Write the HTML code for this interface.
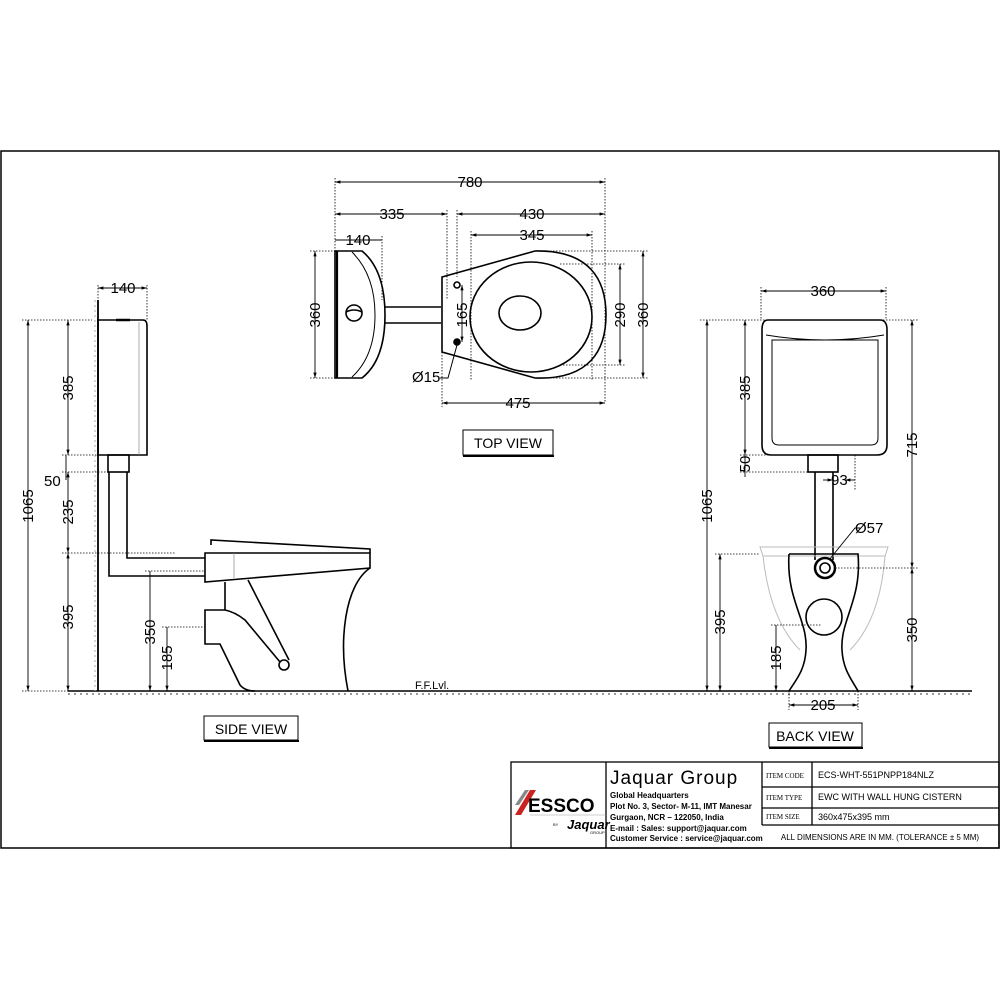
<!DOCTYPE html>
<html><head><meta charset="utf-8"><style>
html,body{margin:0;padding:0;background:#fff}
svg{display:block}
text{font-family:"Liberation Sans",sans-serif;fill:#000}
</style></head><body>
<svg width="1000" height="1000" viewBox="0 0 1000 1000" xmlns="http://www.w3.org/2000/svg">
<defs>
<marker id="a" viewBox="0 0 10 10" refX="10" refY="5" markerWidth="6" markerHeight="6" orient="auto-start-reverse"><path d="M0,2 L10,5 L0,8z" fill="#000"/></marker>
</defs>
<rect x="1" y="151" width="998" height="697" fill="none" stroke="#000" stroke-width="1.5"/>
<line x1="68" y1="691" x2="972" y2="691" stroke="#000" stroke-width="1.5"/>
<line x1="68" y1="694" x2="972" y2="694" stroke="#999" stroke-width="2" stroke-dasharray="2,4"/>
<g fill="none" stroke="#000" stroke-width="1.6">
<line x1="98" y1="300" x2="98" y2="691" stroke-width="1.8"/>
<line x1="95" y1="300" x2="95" y2="691" stroke="#aaa" stroke-width="1" stroke-dasharray="2,3"/>
<path d="M98,320 H143 Q147,320 147,326 V455 H98 Z"/>
<line x1="139" y1="322" x2="139" y2="455" stroke="#888" stroke-width="0.7"/>
<line x1="116" y1="320" x2="130" y2="320" stroke-width="2.5"/>
<rect x="108" y="455" width="21" height="17"/>
<path d="M109,472 V576 H205 M127,472 V558 H205"/>
<path d="M211,545 V540 L370,549 V553"/>
<path d="M205,553 H370 V568 L205,582 Z"/>
<line x1="234" y1="553" x2="234" y2="578" stroke="#888" stroke-width="0.7"/>
<path d="M370,568 C345,585 338,640 348,691"/>
<path d="M225,582 V610 M248,580 L289,660"/>
<path d="M225,610 H205 V644 H220 L240,685 Q245,691 255,691"/>
<path d="M225,610 Q235,612 245,620 L280,662"/>
<circle cx="284" cy="665" r="5"/>
<path d="M335,251 H362 Q385,270 385,315 Q385,360 362,378 H335 Z"/>
<line x1="337" y1="251" x2="337" y2="378" stroke-width="2.2"/>
<path d="M352,252 Q375,275 375,315 Q375,356 352,377" stroke-width="1"/>
<circle cx="354" cy="313" r="8"/>
<path d="M346,312 Q354,308 362,312"/>
<path d="M385,307 H441 M385,323 H441"/>
<path d="M442,277 L535,251 C590,250 606,280 606,315 C606,350 590,380 535,378 L442,352 Z"/>
<ellipse cx="531" cy="317" rx="61" ry="55"/>
<ellipse cx="520" cy="313" rx="21" ry="17"/>
<circle cx="457" cy="285" r="3"/><circle cx="457" cy="342" r="3" fill="#000"/>
<path d="M457,345 L448,378 H440" stroke-width="1"/>
<path d="M768,320 H880 Q887,320 887,330 V445 Q887,455 877,455 H771 Q762,455 762,445 V330 Q762,320 768,320 Z"/>
<path d="M766,335 Q825,345 884,335" stroke-width="1"/>
<path d="M772,340 H878 V438 Q878,445 871,445 H779 Q772,445 772,438 Z" stroke-width="1"/>
<rect x="808" y="455" width="30" height="17"/>
<path d="M815,472 V560 M833,472 V560"/>
<circle cx="825" cy="568" r="10" stroke-width="2.5"/>
<circle cx="825" cy="568" r="5"/>
<path d="M760,547 H888 L885,556 H763 Z" stroke="#bbb" stroke-width="1"/>
<path d="M763,556 Q770,620 800,650 M885,556 Q880,620 850,650" stroke="#bbb" stroke-width="1"/>
<path d="M789,554 H858 C862,600 840,620 842,650 C843,670 852,680 858,691 M789,554 C786,600 808,620 806,650 C805,670 796,680 789,691"/>
<circle cx="824" cy="617" r="18"/>
</g>
<g stroke="#000" stroke-width="0.9" fill="none">
<line x1="28" y1="320" x2="28" y2="691" marker-start="url(#a)" marker-end="url(#a)"/>
<line x1="68" y1="320" x2="68" y2="455" marker-start="url(#a)" marker-end="url(#a)"/>
<line x1="68" y1="472" x2="68" y2="553" marker-start="url(#a)" marker-end="url(#a)"/>
<line x1="68" y1="553" x2="68" y2="691" marker-start="url(#a)" marker-end="url(#a)"/>
<line x1="66" y1="455" x2="66" y2="480"/>
<line x1="150" y1="571" x2="150" y2="691" marker-end="url(#a)"/>
<line x1="167" y1="627" x2="167" y2="691" marker-end="url(#a)"/>
<line x1="98" y1="288" x2="147" y2="288" marker-start="url(#a)" marker-end="url(#a)"/>
<line x1="335" y1="182" x2="605" y2="182" marker-start="url(#a)" marker-end="url(#a)"/>
<line x1="335" y1="214" x2="447" y2="214" marker-start="url(#a)" marker-end="url(#a)"/>
<line x1="457" y1="214" x2="605" y2="214" marker-start="url(#a)" marker-end="url(#a)"/>
<line x1="471" y1="235" x2="592" y2="235" marker-start="url(#a)" marker-end="url(#a)"/>
<line x1="335" y1="240" x2="382" y2="240"/>
<line x1="315" y1="251" x2="315" y2="378" marker-start="url(#a)" marker-end="url(#a)"/>
<line x1="620" y1="264" x2="620" y2="365" marker-start="url(#a)" marker-end="url(#a)"/>
<line x1="643" y1="251" x2="643" y2="378" marker-start="url(#a)" marker-end="url(#a)"/>
<line x1="442" y1="403" x2="605" y2="403" marker-start="url(#a)" marker-end="url(#a)"/>
<line x1="462" y1="285" x2="462" y2="342" marker-start="url(#a)" marker-end="url(#a)"/>
<line x1="761" y1="291" x2="886" y2="291" marker-start="url(#a)" marker-end="url(#a)"/>
<line x1="707" y1="320" x2="707" y2="691" marker-start="url(#a)" marker-end="url(#a)"/>
<line x1="745" y1="320" x2="745" y2="455" marker-start="url(#a)" marker-end="url(#a)"/>
<line x1="745" y1="455" x2="745" y2="477"/>
<line x1="912" y1="320" x2="912" y2="568" marker-start="url(#a)" marker-end="url(#a)"/>
<line x1="912" y1="568" x2="912" y2="691" marker-start="url(#a)" marker-end="url(#a)"/>
<line x1="720" y1="554" x2="720" y2="691" marker-start="url(#a)" marker-end="url(#a)"/>
<line x1="776" y1="625" x2="776" y2="691" marker-end="url(#a)"/>
<line x1="789" y1="705" x2="858" y2="705" marker-start="url(#a)" marker-end="url(#a)"/>
<line x1="823" y1="480" x2="833" y2="480" marker-end="url(#a)"/>
<line x1="855" y1="480" x2="845" y2="480" marker-end="url(#a)"/>
<path d="M829,560 L855,528 H860"/>
</g>
<g stroke="#000" stroke-width="0.8" stroke-dasharray="1.5,1.5" fill="none">
<path d="M22,320 H92 M22,691 H92 M62,455 H98 M62,472 H108 M62,553 H175 M145,571 H205 M162,627 H205 M98,285 V320 M147,285 V320"/>
<path d="M335,178 V378 M605,178 V403 M447,210 V300 M457,210 V277 M471,231 V380 M592,231 V380 M382,236 V300 M310,251 H335 M310,378 H335 M535,251 H648 M560,264 H625 M560,365 H625 M535,378 H648 M442,352 V407"/>
<path d="M761,287 V320 M886,287 V320 M700,320 H918 M740,455 H808 M740,472 H808 M715,554 H760 M835,568 H918 M771,625 H822 M789,691 V710 M858,691 V710 M855,455 V490"/>
</g>
<g font-size="15">
<text x="123" y="293" text-anchor="middle">140</text>
<text transform="translate(33,506) rotate(-90)" text-anchor="middle">1065</text>
<text transform="translate(73,388) rotate(-90)" text-anchor="middle">385</text>
<text x="44" y="486">50</text>
<text transform="translate(73,512) rotate(-90)" text-anchor="middle">235</text>
<text transform="translate(73,617) rotate(-90)" text-anchor="middle">395</text>
<text transform="translate(155,632) rotate(-90)" text-anchor="middle">350</text>
<text transform="translate(172,658) rotate(-90)" text-anchor="middle">185</text>
<text x="470" y="187" text-anchor="middle">780</text>
<text x="392" y="219" text-anchor="middle">335</text>
<text x="532" y="219" text-anchor="middle">430</text>
<text x="532" y="240" text-anchor="middle">345</text>
<text x="358" y="245" text-anchor="middle">140</text>
<text transform="translate(320,315) rotate(-90)" text-anchor="middle">360</text>
<text transform="translate(467,315) rotate(-90)" text-anchor="middle">165</text>
<text x="412" y="382">Ø15</text>
<text transform="translate(625,315) rotate(-90)" text-anchor="middle">290</text>
<text transform="translate(648,315) rotate(-90)" text-anchor="middle">360</text>
<text x="518" y="408" text-anchor="middle">475</text>
<text x="823" y="296" text-anchor="middle">360</text>
<text transform="translate(712,506) rotate(-90)" text-anchor="middle">1065</text>
<text transform="translate(750,388) rotate(-90)" text-anchor="middle">385</text>
<text transform="translate(750,464) rotate(-90)" text-anchor="middle">50</text>
<text x="831" y="485">93</text>
<text x="855" y="533">Ø57</text>
<text transform="translate(917,445) rotate(-90)" text-anchor="middle">715</text>
<text transform="translate(917,630) rotate(-90)" text-anchor="middle">350</text>
<text transform="translate(725,622) rotate(-90)" text-anchor="middle">395</text>
<text transform="translate(781,658) rotate(-90)" text-anchor="middle">185</text>
<text x="823" y="710" text-anchor="middle">205</text>
<text x="415" y="689" font-size="11">F.F.Lvl.</text>
</g>
<g fill="none" stroke="#000">
<rect x="463" y="430" width="90" height="25"/><line x1="463" y1="456" x2="554" y2="456" stroke-width="2"/>
<rect x="204" y="716" width="94" height="24"/><line x1="204" y1="741" x2="299" y2="741" stroke-width="2"/>
<rect x="769" y="723" width="93" height="24"/><line x1="769" y1="748" x2="863" y2="748" stroke-width="2"/>
</g>
<text x="508" y="448" font-size="14" text-anchor="middle">TOP VIEW</text>
<text x="251" y="734" font-size="14" text-anchor="middle">SIDE VIEW</text>
<text x="815" y="741" font-size="14" text-anchor="middle">BACK VIEW</text>
<g fill="none" stroke="#000" stroke-width="1.3">
<rect x="511" y="762" width="488" height="86"/>
<line x1="606" y1="762" x2="606" y2="848"/>
<line x1="762" y1="762" x2="762" y2="825"/>
<line x1="812" y1="762" x2="812" y2="825"/>
<line x1="762" y1="787" x2="999" y2="787"/>
<line x1="762" y1="808" x2="999" y2="808"/>
<line x1="762" y1="825" x2="999" y2="825"/>
</g>
<polygon points="515,815 530,790 536,790 521,815" fill="#c22"/>
<polygon points="515,805 525,790 529,790 519,805" fill="#888"/>
<text x="528" y="812" font-size="19" font-weight="bold">ESSCO</text>
<line x1="530" y1="815" x2="606" y2="815" stroke="#999" stroke-width="0.6"/>
<text x="567" y="829" font-size="13" font-style="italic" font-weight="bold">Jaquar</text>
<text x="553" y="826" font-size="4">BY</text>
<text x="590" y="834" font-size="4" fill="#777">GROUP</text>
<text x="610" y="784" font-size="19" letter-spacing="1">Jaquar Group</text>
<g font-size="8" font-weight="bold">
<text x="610" y="798">Global Headquarters</text>
<text x="610" y="809">Plot No. 3, Sector- M-11, IMT Manesar</text>
<text x="610" y="820">Gurgaon, NCR – 122050, India</text>
<text x="610" y="831">E-mail : Sales: support@jaquar.com</text>
<text x="610" y="841">Customer Service : service@jaquar.com</text>
</g>
<g font-size="7">
<text x="766" y="778" style="font-family:'Liberation Serif',serif">ITEM CODE</text>
<text x="766" y="800" style="font-family:'Liberation Serif',serif">ITEM TYPE</text>
<text x="766" y="819" style="font-family:'Liberation Serif',serif">ITEM SIZE</text>
</g>
<text x="818" y="778" font-size="9">ECS-WHT-551PNPP184NLZ</text>
<text x="818" y="800" font-size="9">EWC WITH WALL HUNG CISTERN</text>
<text x="818" y="820" font-size="9">360x475x395 mm</text>
<text x="880" y="840" font-size="8" text-anchor="middle">ALL DIMENSIONS ARE IN MM. (TOLERANCE ± 5 MM)</text>
</svg>
</body></html>
